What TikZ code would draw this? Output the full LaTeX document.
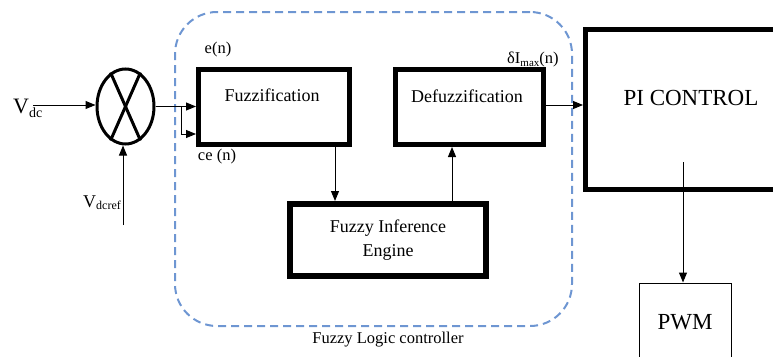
\documentclass[tikz,border=0pt]{standalone}
\usepackage{fontspec}
\setmainfont{Liberation Serif}
\usetikzlibrary{arrows.meta,shapes.geometric,calc}
\definecolor{dashblue}{RGB}{110,150,210}
\begin{document}
\begin{tikzpicture}[x=1pt,y=-1pt,
  arr/.style={-{Triangle[length=10pt,width=8pt]},line width=1pt},
  block/.style={draw,line width=5pt,inner sep=0pt},
  lbl/.style={inner sep=0pt,font=\fontsize{18}{21}\selectfont},
  big/.style={inner sep=0pt,font=\fontsize{23}{26}\selectfont},
  small/.style={inner sep=0pt,font=\fontsize{16.5}{19}\selectfont}]
\useasboundingbox (0,0) rectangle (773,356);
\clip (0,0) rectangle (773,356);
% fuzzy logic controller frame
\node[draw=dashblue,line width=2pt,dash pattern=on 8pt off 5pt,rounded corners=42pt,
  minimum width=397pt,minimum height=314pt,inner sep=0pt] (flc) at (373.5,169) {};
\node[small] (flct) at (388,340) {Fuzzy Logic controller};
% summing junction
\node[ellipse,draw,line width=3pt,minimum width=57pt,minimum height=75pt,inner sep=0pt] (sum) at (125.5,106.5) {};
\draw[line width=3pt] ($(sum.center)+(-15,-34)$) -- ($(sum.center)+(15,34)$);
\draw[line width=3pt] ($(sum.center)+(15,-34)$) -- ($(sum.center)+(-15,34)$);
% blocks
\node[block,minimum width=151pt,minimum height=75pt] (fuz) at (274,107) {};
\node[lbl] (fuzt) at (272,95) {Fuzzification};
\node[block,minimum width=148pt,minimum height=75pt] (defuz) at (469.5,107) {};
\node[lbl] (defuzt) at (467,96) {Defuzzification};
\node[block,line width=6pt,minimum width=196pt,minimum height=72pt,align=center,
  font=\fontsize{18}{21}\selectfont] (fie) at (388,240) {Fuzzy Inference\\[3pt]Engine};
\node[block,minimum width=212pt,minimum height=160pt] (pi) at (691.5,109.5) {};
\node[big] (pit) at (691,98) {PI CONTROL};
\node[draw,line width=1pt,minimum width=92pt,minimum height=96pt,inner sep=0pt] (pwm) at (685.5,331) {};
\node[big] (pwmt) at (685,322) {PWM};
% labels
\node[anchor=base west,inner sep=0pt] (vdc) at (13,113)
  {\fontsize{22}{24}\selectfont V\raisebox{-4pt}{\fontsize{14}{14}\selectfont dc}};
\node[anchor=base west,inner sep=0pt] (vdcref) at (83,207)
  {\fontsize{18}{20}\selectfont V\raisebox{-2pt}{\fontsize{12}{12}\selectfont dcref}};
\node[small] (en) at (218,50) {e(n)};
\node[small] (cen) at (217,157) {ce (n)};
\node[small,anchor=west] (dimax) at (507,59)
  {δI\raisebox{-3pt}{\fontsize{11}{11}\selectfont max}(n)};
% connectors
\coordinate (vdcin) at (33,105);
\draw[arr] (vdcin) -- (vdcin -| sum.west);
\coordinate (vrefin) at (123,225);
\draw[arr] (vrefin) -- (vrefin |- sum.south);
\draw[arr] (sum.east) -- (sum.east -| fuz.west);
\coordinate (br) at ($(sum.east)+(26,0)$);
\draw[arr] (br) |- ($(fuz.west)+(0,27)$);
\coordinate (fo) at ($(fuz.south east)+(-17,0)$);
\draw[arr] (fo) -- (fo |- fie.north);
\coordinate (fi) at ($(fie.north east)+(-37,0)$);
\draw[arr] (fi) -- (fi |- defuz.south);
\coordinate (dout) at ($(defuz.east)+(0,-2)$);
\draw[arr] (dout) -- (dout -| pi.west);
\coordinate (po) at (683,162);
\draw[arr] (po) -- (po |- pwm.north);
\end{tikzpicture}
\end{document}
